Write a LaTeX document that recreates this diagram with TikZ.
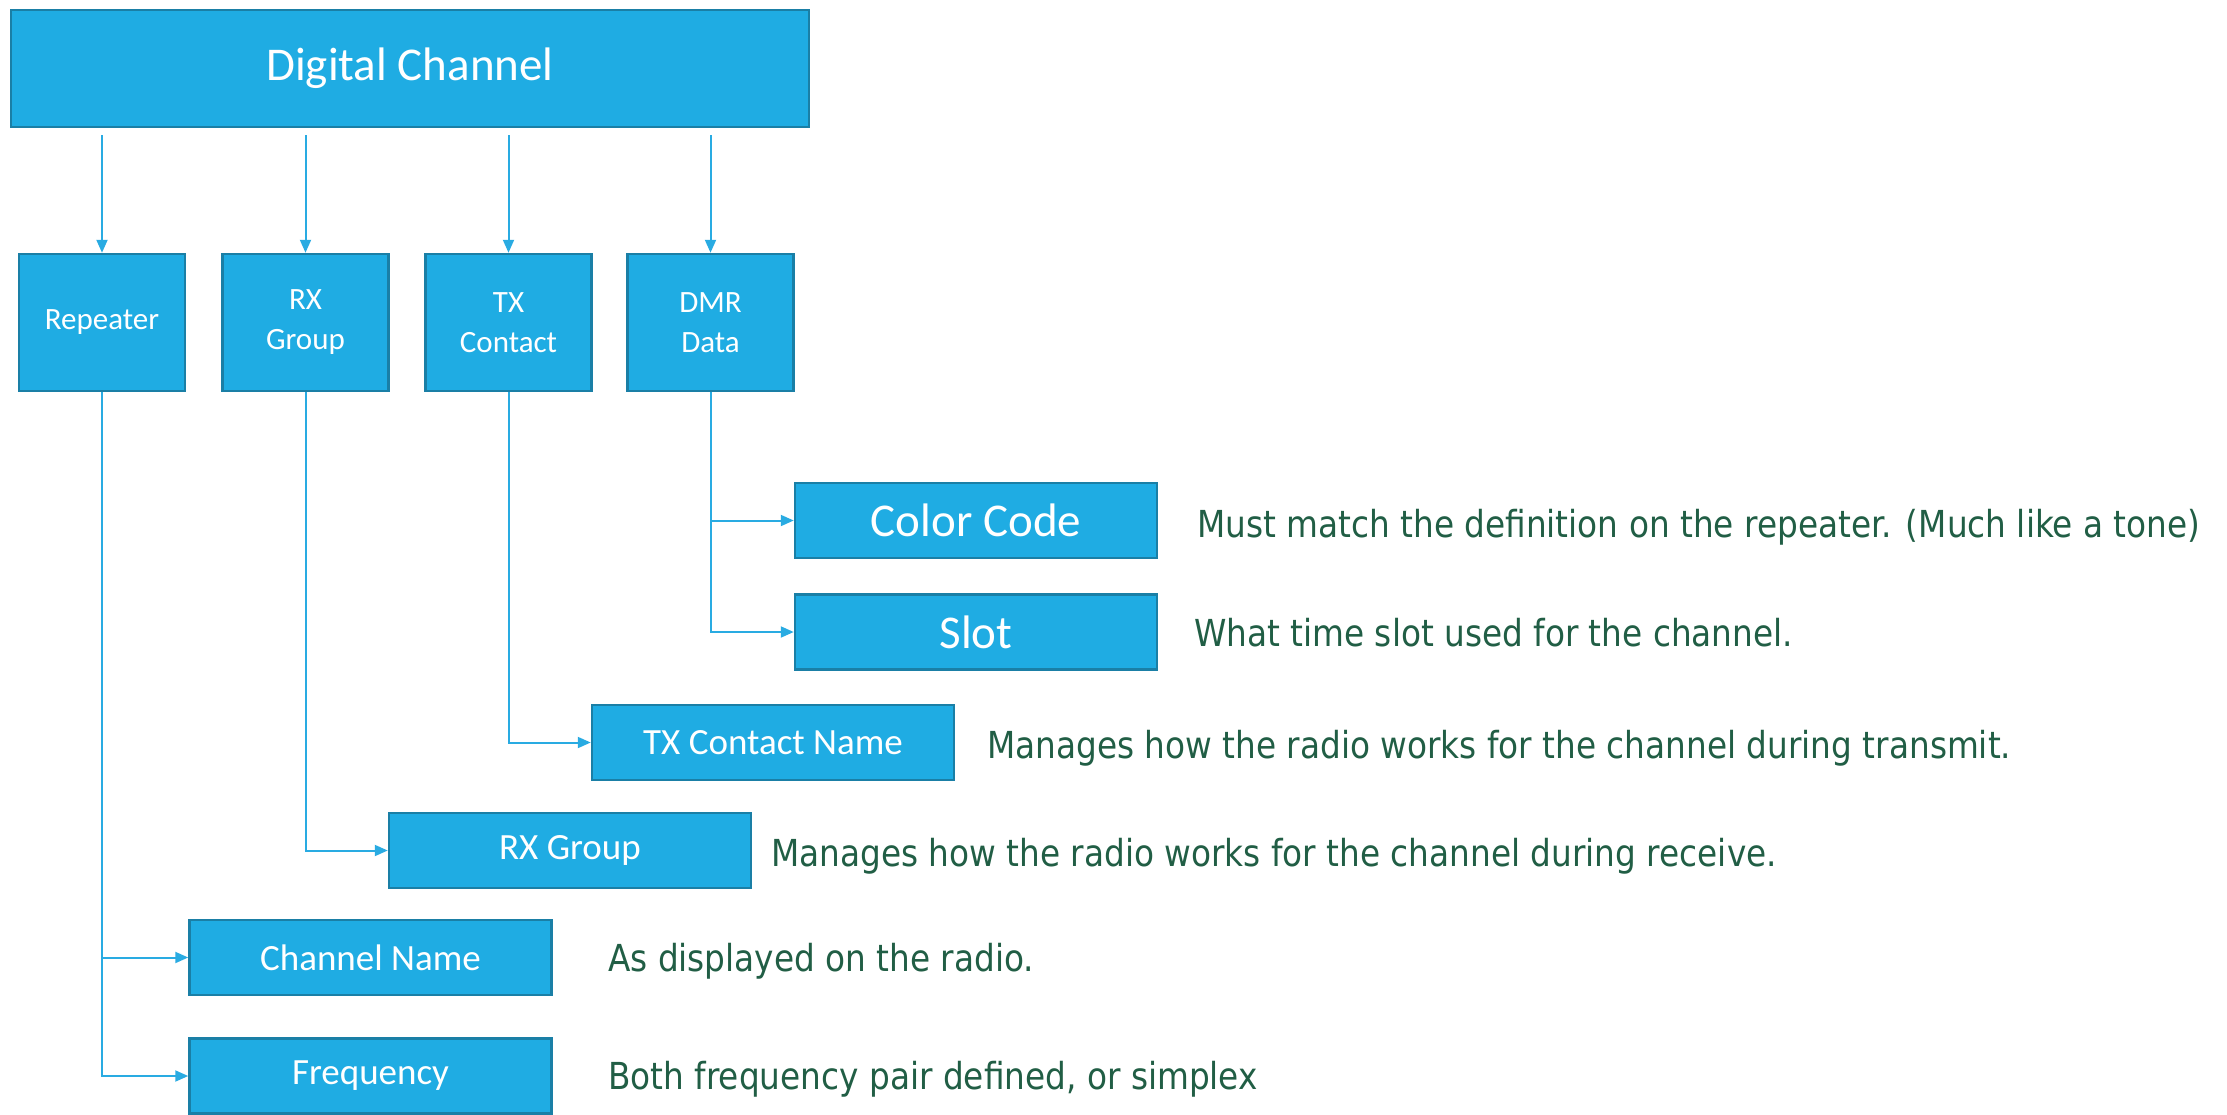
\documentclass[tikz,border=0pt]{standalone}
\usepackage{fontspec}
\setmainfont{Carlito}
\newfontfamily\descfont{DejaVu Sans}[FakeStretch=0.88]
\usetikzlibrary{arrows.meta}
\definecolor{boxfill}{HTML}{1FACE3}
\definecolor{boxline}{HTML}{1A7FA6}
\definecolor{wirecol}{HTML}{29ABE2}
\definecolor{desccol}{HTML}{215E45}
\begin{document}
\begin{tikzpicture}[x=1pt,y=-1pt,
  blk/.style={draw=boxline, line width=2.5pt, fill=boxfill, text=white,
    inner sep=0pt, align=center},
  catbox/.style={blk, minimum width=166pt, minimum height=137pt,
    font=\fontsize{31}{40}\selectfont},
  itembox/.style={blk, minimum width=362pt, minimum height=75pt},
  bigtxt/.style={font=\fontsize{47}{56}\selectfont},
  midtxt/.style={font=\fontsize{37}{44}\selectfont},
  wire/.style={draw=wirecol, line width=2pt},
  feed/.style={wire, -{Triangle[length=13pt,width=11pt]}},
  desc/.style={anchor=west, inner sep=0pt, text=desccol,
    font=\descfont\fontsize{37.2}{43}\selectfont}]

\useasboundingbox (0,0) rectangle (2227,1114);

% top level
\node[blk, bigtxt, minimum width=798pt, minimum height=117pt] (top) at (410,68.5) {Digital Channel};

% categories
\node[catbox] (rep) at (102,322.5) {Repeater};
\node[catbox] (rxg) at (305.5,322.5) {RX\\Group};
\node[catbox] (txc) at (508.5,322.5) {TX\\Contact};
\node[catbox] (dmr) at (710.5,322.5) {DMR\\Data};

\foreach \c in {rep,rxg,txc,dmr}
  \draw[feed] ([yshift=-7pt]top.south -| \c.north) -- (\c.north);

% settings
\node[itembox, bigtxt] (cc)   at (976,520.5)  {Color Code};
\node[itembox, bigtxt] (slot) at (976,632)    {Slot};
\node[itembox, midtxt] (txn)  at (773,742.5)  {TX Contact Name};
\node[itembox, midtxt] (rxn)  at (570,850.5)  {RX Group};
\node[itembox, midtxt] (chn)  at (370.5,957.5) {Channel Name};
\node[itembox, midtxt] (frq)  at (370.5,1076)  {Frequency};

\draw[feed] (dmr.south) |- (cc.west);
\draw[feed] (dmr.south) |- (slot.west);
\draw[feed] (txc.south) |- (txn.west);
\draw[feed] (rxg.south) |- (rxn.west);
\draw[feed] (rep.south) |- (chn.west);
\draw[feed] (rep.south) |- (frq.west);

% descriptions
\node[desc] (dcc)  at (1197,527) {Must match the definition on the repeater. (Much like a tone)};
\node[desc] (dsl)  at (1194,633) {What time slot used for the channel.};
\node[desc] (dtx)  at (987,748)  {Manages how the radio works for the channel during transmit.};
\node[desc] (drx)  at (771,856)  {Manages how the radio works for the channel during receive.};
\node[desc] (dch)  at (608,961)  {As displayed on the radio.};
\node[desc] (dfr)  at (608,1079) {Both frequency pair defined, or simplex};
\end{tikzpicture}
\end{document}
